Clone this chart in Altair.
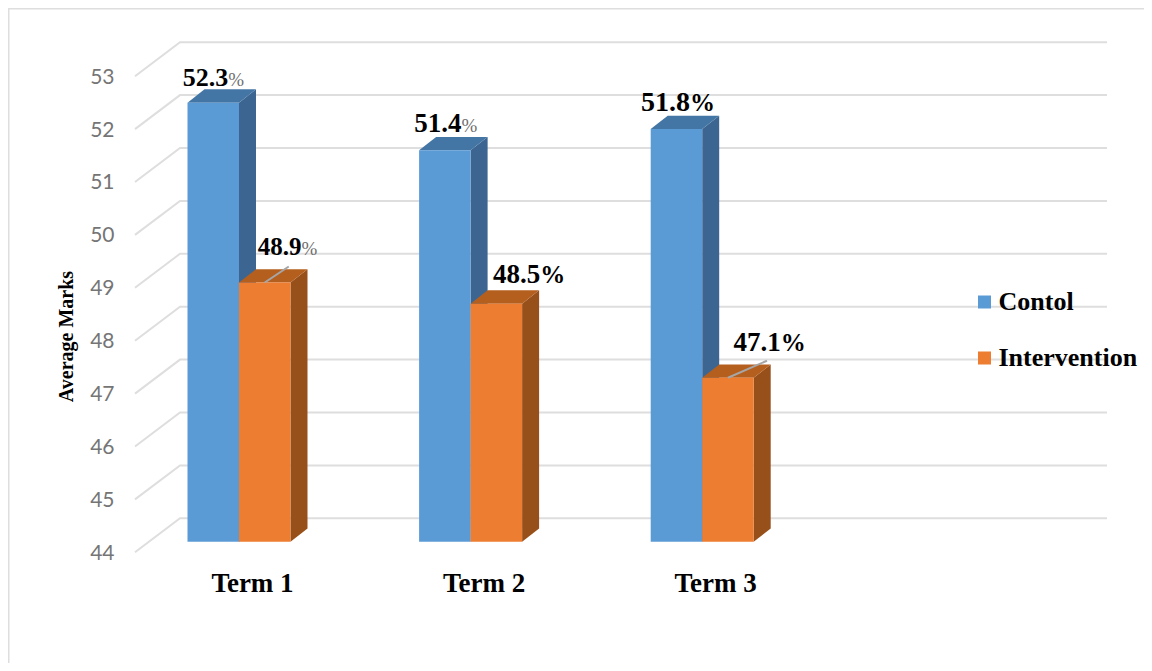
import altair as alt
import pandas as pd

terms = ["Term 1", "Term 2", "Term 3"]
series = ["Contol", "Intervention"]
control = [52.3, 51.4, 51.8]
intervention = [48.9, 48.5, 47.1]
y_ticks = [44, 45, 46, 47, 48, 49, 50, 51, 52, 53]

# Layout constants: one x unit = one term step; y units are marks
W, H = 1136, 655
PX_X = 231.6      # pixels per term
PX_Y = 52.9       # pixels per mark
ORIGIN_X = 239 - 8      # chart pixel of term 1 centre
ORIGIN_Y = 541.7 - 8    # chart pixel of 44 on the bars' front plane
BASE = 44
BAR_W = 51.5 / PX_X
DEPTH_X = 17 / PX_X
DEPTH_Y = 13.3 / PX_Y
x_domain = [-ORIGIN_X / PX_X, (W - ORIGIN_X) / PX_X]
y_domain = [BASE - (H - ORIGIN_Y) / PX_Y, BASE + ORIGIN_Y / PX_Y]
x_scale = alt.Scale(domain=x_domain, nice=False, zero=False)
y_scale = alt.Scale(domain=y_domain, nice=False, zero=False)
color_scale = alt.Scale(domain=series, range=["#5b9bd5", "#ed7d31"])
SERIF = "Liberation Serif"


def ux(p):  # absolute pixel -> x unit
    return (p - 8 - ORIGIN_X) / PX_X


# wall gridlines: front edge, back corner, far end
wall_rows = []
for v in y_ticks:
    for px, shift in [(135, -10.6 / PX_Y), (180, 23.4 / PX_Y), (1107, 23.4 / PX_Y)]:
        wall_rows.append({"key": v, "x": ux(px), "y": v + shift})
wall = pd.DataFrame(wall_rows)
x0 = alt.X("x:Q", scale=x_scale, title=None,
           axis=alt.Axis(values=[0, 1, 2], domain=False, ticks=False, grid=False,
                         labelExpr="%r[datum.value]" % terms,
                         labelFont=SERIF, labelFontWeight="bold", labelFontSize=27,
                         labelColor="#000000", labelPadding=0, labelBaseline="alphabetic",
                         labelOffset=13, offset=-(H - 583.7), labelOverlap=False, labelBound=False))
y0 = alt.Y("y:Q", scale=y_scale, title="Average Marks",
           axis=alt.Axis(values=y_ticks, domain=False, ticks=False, grid=False,
                         labelFont="Lato", labelFontSize=21, labelColor="#757575",
                         labelPadding=0, labelOffset=11.5, offset=-106, format="d",
                         labelOverlap=False, labelBound=False,
                         titleFont=SERIF, titleFontWeight="bold", titleFontSize=20,
                         titleColor="#000000", titleAngle=-90, titleAlign="center",
                         titleBaseline="alphabetic", titleX=-42, titleY=328))
wall_layer = alt.Chart(wall).mark_line(color="#dedede", strokeWidth=2).encode(
    x=x0, y=y0, detail="key:N")

# outer frame (top and left edges)
frame_top = alt.Chart(pd.DataFrame({"a": [0]})).mark_rule(color="#dedede", strokeWidth=3).encode(
    x=alt.value(0), x2=alt.value(W), y=alt.value(0))
frame_left = alt.Chart(pd.DataFrame({"a": [0]})).mark_rule(color="#dedede", strokeWidth=3).encode(
    y=alt.value(0), y2=alt.value(H), x=alt.value(0))


def faces(values, start, side_c, top_c):
    rows = []
    for i, v in enumerate(values):
        a = i + start
        b = a + BAR_W
        d, e = DEPTH_X, DEPTH_Y
        for x, t, u in [(b, v, BASE), (b + d, v + e, BASE + e)]:
            rows.append({"key": f"s{i}", "c": side_c, "x": x, "t": t, "u": u})
        for x, t, u in [(a, v, v), (a + d, v + e, v), (b, v + e, v), (b + d, v + e, v + e)]:
            rows.append({"key": f"t{i}", "c": top_c, "x": x, "t": t, "u": u})
    return alt.Chart(pd.DataFrame(rows)).mark_area(orient="vertical", opacity=1).encode(
        x=alt.X("x:Q", scale=x_scale, axis=None),
        y=alt.Y("t:Q", scale=y_scale, axis=None),
        y2="u:Q",
        detail="key:N",
        color=alt.Color("c:N", scale=None),
    )


def fronts(values, start, name):
    df = pd.DataFrame({
        "a": [i + start for i in range(len(values))],
        "b": [i + start + BAR_W for i in range(len(values))],
        "v": values,
        "base": [BASE] * len(values),
        "series": [name] * len(values),
    })
    return alt.Chart(df).mark_rect().encode(
        x=alt.X("a:Q", scale=x_scale, axis=None),
        x2="b:Q",
        y=alt.Y("v:Q", scale=y_scale, axis=None),
        y2="base:Q",
        color=alt.Color("series:N", scale=color_scale,
                        legend=alt.Legend(orient="none", legendX=963.5, legendY=281, title=None,
                                          symbolType="square", symbolSize=169, symbolStrokeWidth=0,
                                          labelFont=SERIF, labelFontWeight="bold", labelFontSize=26,
                                          labelColor="#000000", labelOffset=1, rowPadding=30, padding=0)),
    )


def leader(i, v, start, off_x, off_y):
    cx = i + start + BAR_W / 2
    df = pd.DataFrame({"x": [cx, cx + off_x / PX_X], "y": [v, v + off_y / PX_Y]})
    return alt.Chart(df).mark_line(color="#a6a6a6", strokeWidth=2).encode(
        x=alt.X("x:Q", scale=x_scale, axis=None),
        y=alt.Y("y:Q", scale=y_scale, axis=None),
    )


def label(i, v, start, dx, dy, grey, size):
    cx = i + start + BAR_W / 2
    df = pd.DataFrame({"x": [cx], "y": [v], "n": [f"{v:.1f}"], "p": ["%"]})
    base = alt.Chart(df).encode(
        x=alt.X("x:Q", scale=x_scale, axis=None),
        y=alt.Y("y:Q", scale=y_scale, axis=None),
    )
    num = base.mark_text(font=SERIF, fontWeight="bold", fontSize=size, color="#000000",
                         align="right", baseline="alphabetic", dx=dx, dy=dy).encode(text="n:N")
    if grey:
        pct = base.mark_text(font=SERIF, fontSize=19, color="#6f6f6f",
                             align="left", baseline="alphabetic", dx=dx, dy=dy).encode(text="p:N")
    else:
        pct = base.mark_text(font=SERIF, fontWeight="bold", fontSize=25, color="#000000",
                             align="left", baseline="alphabetic", dx=dx, dy=dy).encode(text="p:N")
    return num + pct


L = -BAR_W
layers = [
    wall_layer, frame_top, frame_left,
    faces(control, L, "#3c6691", "#4476a5"),
    fronts(control, L, series[0]),
    faces(intervention, 0, "#975019", "#b55f1f"),
    fronts(intervention, 0, series[1]),
    leader(0, intervention[0], 0, 24, 16),
    leader(2, intervention[2], 0, 39, 17),
    label(0, control[0], L, 15, -16.7, True, 26),
    label(1, control[1], L, 16.7, -18, True, 27),
    label(2, control[2], L, 13.5, -18, False, 28),
    label(0, intervention[0], 0, 36.7, -27.3, True, 25),
    label(1, intervention[1], 0, 44, -20.3, False, 27),
    label(2, intervention[2], 0, 52.7, -26.7, False, 27),
]

chart = alt.layer(*layers).resolve_axis(x="independent", y="independent").properties(
    width=W, height=H, padding=0,
    autosize=alt.AutoSizeParams(type="none"),
).configure_view(stroke=None)

chart.save("out.html", embed_options={"renderer": "svg", "actions": False})
